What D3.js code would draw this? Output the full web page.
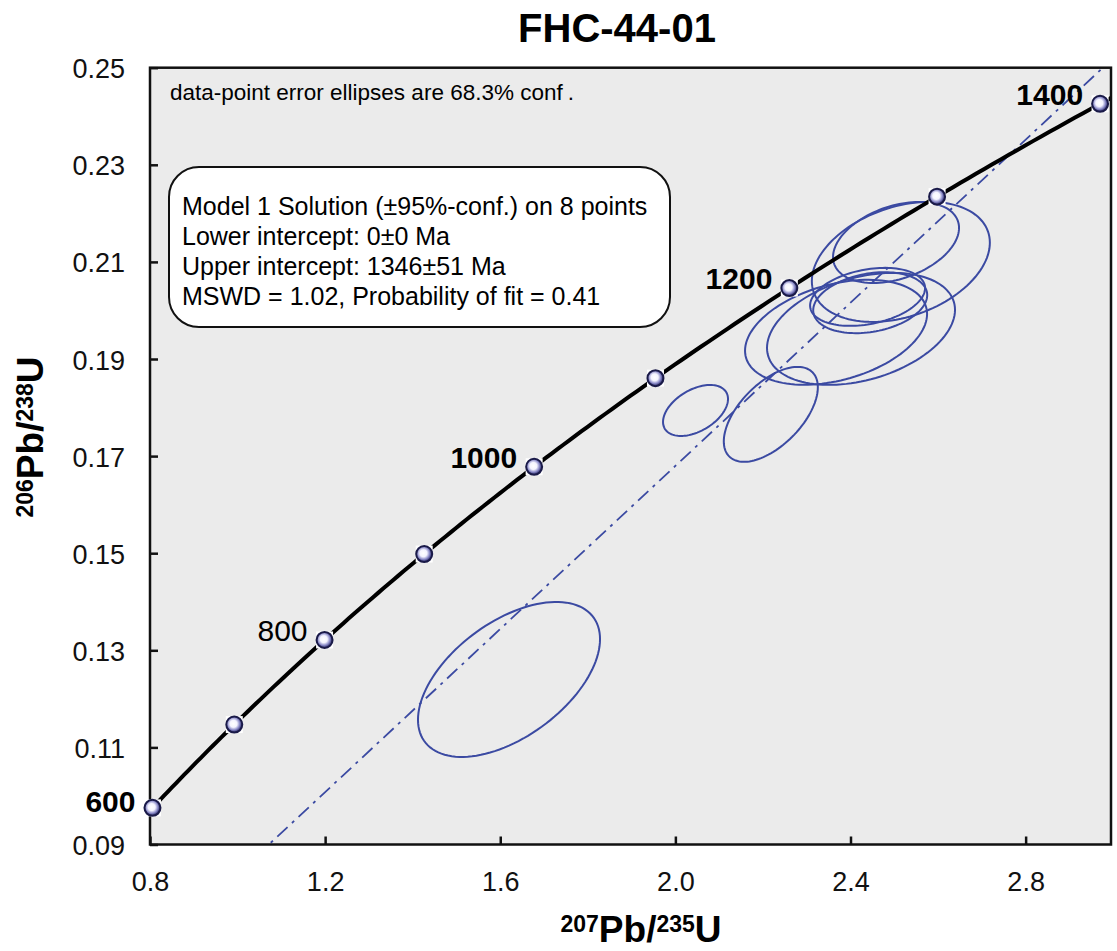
<!DOCTYPE html>
<meta charset="utf-8">
<head>
  <title>FHC-44-01</title>
  <script src="https://cdn.jsdelivr.net/npm/d3@7"></script>
</head>
<style>
  body { margin: 0; background: #fff; font-family: "Liberation Sans", Arial, Helvetica, sans-serif; }
  svg { display: block; }
  .tick text { font-family: "Liberation Sans", Arial, sans-serif; font-size: 27px; fill: #111; }
  .tick line { stroke: #111; stroke-width: 2.5px; }
  .ellipse { fill: none; stroke: #3b4aa2; stroke-width: 2px; }
  .discordia { fill: none; stroke: #3b4aa2; stroke-width: 1.8px; stroke-dasharray: 14,6,3,6; }
  .concordia { fill: none; stroke: #000; stroke-width: 4px; }
</style>
<body>
<script>
  // ages of the concordia markers (Ma), labelled ones and their weight
  var markerAges = [600, 700, 800, 900, 1000, 1100, 1200, 1300, 1400];
  var labelAges  = [600, 800, 1000, 1200, 1400];
  var labelBold  = [true, false, true, true, true];

  // decay constants (1/yr)
  var lambda238 = 1.55125e-10,
      lambda235 = 9.8485e-10;

  // discordia intercepts (Ma)
  var lowerIntercept = 0,
      upperIntercept = 1346;

  // error ellipses: centre, half-widths of bounding box, correlation
  var ellX  = [2.504, 2.515, 2.439, 2.445, 2.367, 2.424, 2.046, 2.218, 1.620];
  var ellY  = [0.2140, 0.2100, 0.2028, 0.2016, 0.1955, 0.1962, 0.1794, 0.1786, 0.1240];
  var ellSX = [0.1439, 0.2033, 0.1313, 0.1302, 0.2079, 0.2147, 0.0742, 0.1074, 0.2079];
  var ellSY = [0.00834, 0.01236, 0.00597, 0.00628, 0.01081, 0.01153, 0.00525, 0.00978, 0.01596];
  var ellRho = [0.36, 0.32, 0.30, 0.25, 0.35, 0.34, 0.45, 0.57, 0.52];

  var xMajor = [0.8, 1.2, 1.6, 2.0, 2.4, 2.8],
      xMinor = [1.0, 1.4, 1.8, 2.2, 2.6],
      yMajor = [0.09, 0.11, 0.13, 0.15, 0.17, 0.19, 0.21, 0.23, 0.25],
      yMinor = [0.10, 0.12, 0.14, 0.16, 0.18, 0.20, 0.22, 0.24];

  var legendLines = [
    "Model 1 Solution (\u00b195%-conf.) on 8 points",
    "Lower intercept: 0\u00b10 Ma",
    "Upper intercept: 1346\u00b151 Ma",
    "MSWD = 1.02, Probability of fit = 0.41"
  ];

  var width = 1117, height = 951;
  var plotL = 150, plotR = 1111, plotT = 67.7, plotB = 844.5;

  var x = d3.scaleLinear().domain([0.8, 2.995]).range([plotL, plotR]);
  var y = d3.scaleLinear().domain([0.09, 0.25]).range([plotB, plotT]);

  function r206(t) { return Math.exp(lambda238 * t * 1e6) - 1; }
  function r207(t) { return Math.exp(lambda235 * t * 1e6) - 1; }

  var svg = d3.select("body").append("svg")
    .attr("width", width)
    .attr("height", height);

  var defs = svg.append("defs");
  defs.append("clipPath").attr("id", "plotclip")
    .append("rect")
    .attr("x", plotL).attr("y", plotT)
    .attr("width", plotR - plotL).attr("height", plotB - plotT);

  var grad = defs.append("radialGradient").attr("id", "mk")
    .attr("cx", "45%").attr("cy", "45%").attr("r", "55%");
  grad.append("stop").attr("offset", "0%").attr("stop-color", "#ffffff");
  grad.append("stop").attr("offset", "40%").attr("stop-color", "#f4f4ff");
  grad.append("stop").attr("offset", "70%").attr("stop-color", "#8a8ac8");
  grad.append("stop").attr("offset", "100%").attr("stop-color", "#1e1e5a");

  // title
  svg.append("text")
    .attr("x", 617).attr("y", 42)
    .attr("text-anchor", "middle")
    .style("font-size", "40px").style("font-weight", "bold")
    .text("FHC-44-01");

  // plot background
  svg.append("rect")
    .attr("x", plotL).attr("y", plotT)
    .attr("width", plotR - plotL).attr("height", plotB - plotT)
    .attr("fill", "#ebebeb");

  var plot = svg.append("g").attr("clip-path", "url(#plotclip)");

  // ellipses
  var line = d3.line().x(function(d) { return x(d[0]); }).y(function(d) { return y(d[1]); })
    .curve(d3.curveLinearClosed);
  var angles = d3.range(0, 360, 3);
  ellX.forEach(function(cx, i) {
    var rho = ellRho[i], s = Math.sqrt(1 - rho * rho);
    var pts = angles.map(function(a) {
      var t = a * Math.PI / 180;
      return [cx + ellSX[i] * Math.cos(t),
              ellY[i] + ellSY[i] * (rho * Math.cos(t) + s * Math.sin(t))];
    });
    plot.append("path").attr("class", "ellipse").attr("d", line(pts));
  });

  // discordia through the two intercepts
  var p0 = [r207(lowerIntercept), r206(lowerIntercept)],
      p1 = [r207(upperIntercept), r206(upperIntercept)];
  var slope = (p1[1] - p0[1]) / (p1[0] - p0[0]);
  plot.append("line").attr("class", "discordia")
    .attr("x1", x(0.8)).attr("y1", y(p0[1] + slope * (0.8 - p0[0])))
    .attr("x2", x(3.2)).attr("y2", y(p0[1] + slope * (3.2 - p0[0])));

  // concordia
  var ages = d3.range(500, 1501, 5);
  plot.append("path").attr("class", "concordia")
    .attr("d", d3.line()
      .x(function(t) { return x(r207(t)); })
      .y(function(t) { return y(r206(t)); })(ages));

  // axes
  var gx = svg.append("g").attr("transform", "translate(0," + plotB + ")");
  gx.call(d3.axisBottom(x).tickValues(xMinor).tickFormat("").tickSizeInner(-6).tickSizeOuter(0));
  gx.call(d3.axisBottom(x).tickValues(xMajor).tickFormat(d3.format(".1f")).tickSizeInner(-8).tickSizeOuter(0).tickPadding(27));
  var gy = svg.append("g").attr("transform", "translate(" + plotL + ",0)");
  gy.call(d3.axisLeft(y).tickValues(yMinor).tickFormat("").tickSizeInner(-7).tickSizeOuter(0));
  gy.call(d3.axisLeft(y).tickValues(yMajor).tickFormat(d3.format(".2f")).tickSizeInner(-8).tickSizeOuter(0).tickPadding(25));
  svg.selectAll(".domain").remove();
  gy.selectAll(".tick text").attr("dy", "0.37em");

  // frame
  svg.append("rect")
    .attr("x", plotL).attr("y", plotT)
    .attr("width", plotR - plotL).attr("height", plotB - plotT)
    .attr("fill", "none").attr("stroke", "#111").attr("stroke-width", 2.5);

  // markers
  var mk = svg.append("g").selectAll("g")
    .data(markerAges).enter().append("g")
    .attr("transform", function(t) { return "translate(" + x(r207(t)) + "," + y(r206(t)) + ")"; });
  mk.append("rect").attr("x", -8.5).attr("y", -8.5).attr("width", 17).attr("height", 17).attr("fill", "#fff");
  mk.append("circle").attr("r", 8).attr("fill", "url(#mk)")
    .attr("stroke", "#1a1a48").attr("stroke-width", 2);

  // marker labels
  svg.append("g").selectAll("text")
    .data(labelAges).enter().append("text")
    .attr("x", function(t) { return x(r207(t)) - 17; })
    .attr("y", function(t) { return y(r206(t)) + (t === 600 ? 4 : 1); })
    .attr("text-anchor", "end")
    .style("font-size", "30px")
    .style("font-weight", function(t, i) { return labelBold[i] ? "bold" : "normal"; })
    .text(function(t) { return t; });

  // note
  var note = svg.append("text")
    .attr("x", 170).attr("y", 100)
    .style("font-size", "22.5px")
    .text("data-point error ellipses are 68.3% conf");
  note.append("tspan").attr("dx", 5).text(".");

  // legend box
  svg.append("rect")
    .attr("x", 169).attr("y", 167)
    .attr("width", 501).attr("height", 160)
    .attr("rx", 30).attr("ry", 30)
    .attr("fill", "#fff").attr("stroke", "#111").attr("stroke-width", 2);
  svg.append("g").selectAll("text")
    .data(legendLines).enter().append("text")
    .attr("x", 182)
    .attr("y", function(d, i) { return 215 + i * 30; })
    .style("font-size", "25px")
    .text(function(d) { return d; });

  // axis titles
  function isoLabel(g, sup1, sup2, sym) {
    var t = g.append("text").attr("text-anchor", "middle").style("font-weight", "bold");
    t.append("tspan").style("font-size", "23px").attr("dy", -10).text(sup1);
    t.append("tspan").style("font-size", "37px").attr("dy", 10).text("Pb/");
    t.append("tspan").style("font-size", "23px").attr("dy", -10).text(sup2);
    t.append("tspan").style("font-size", "37px").attr("dy", 10).text(sym);
  }
  isoLabel(svg.append("g").attr("transform", "translate(641,942)"), "207", "235", "U");
  isoLabel(svg.append("g").attr("transform", "translate(43,437) rotate(-90)"), "206", "238", "U");
</script>
</body>
